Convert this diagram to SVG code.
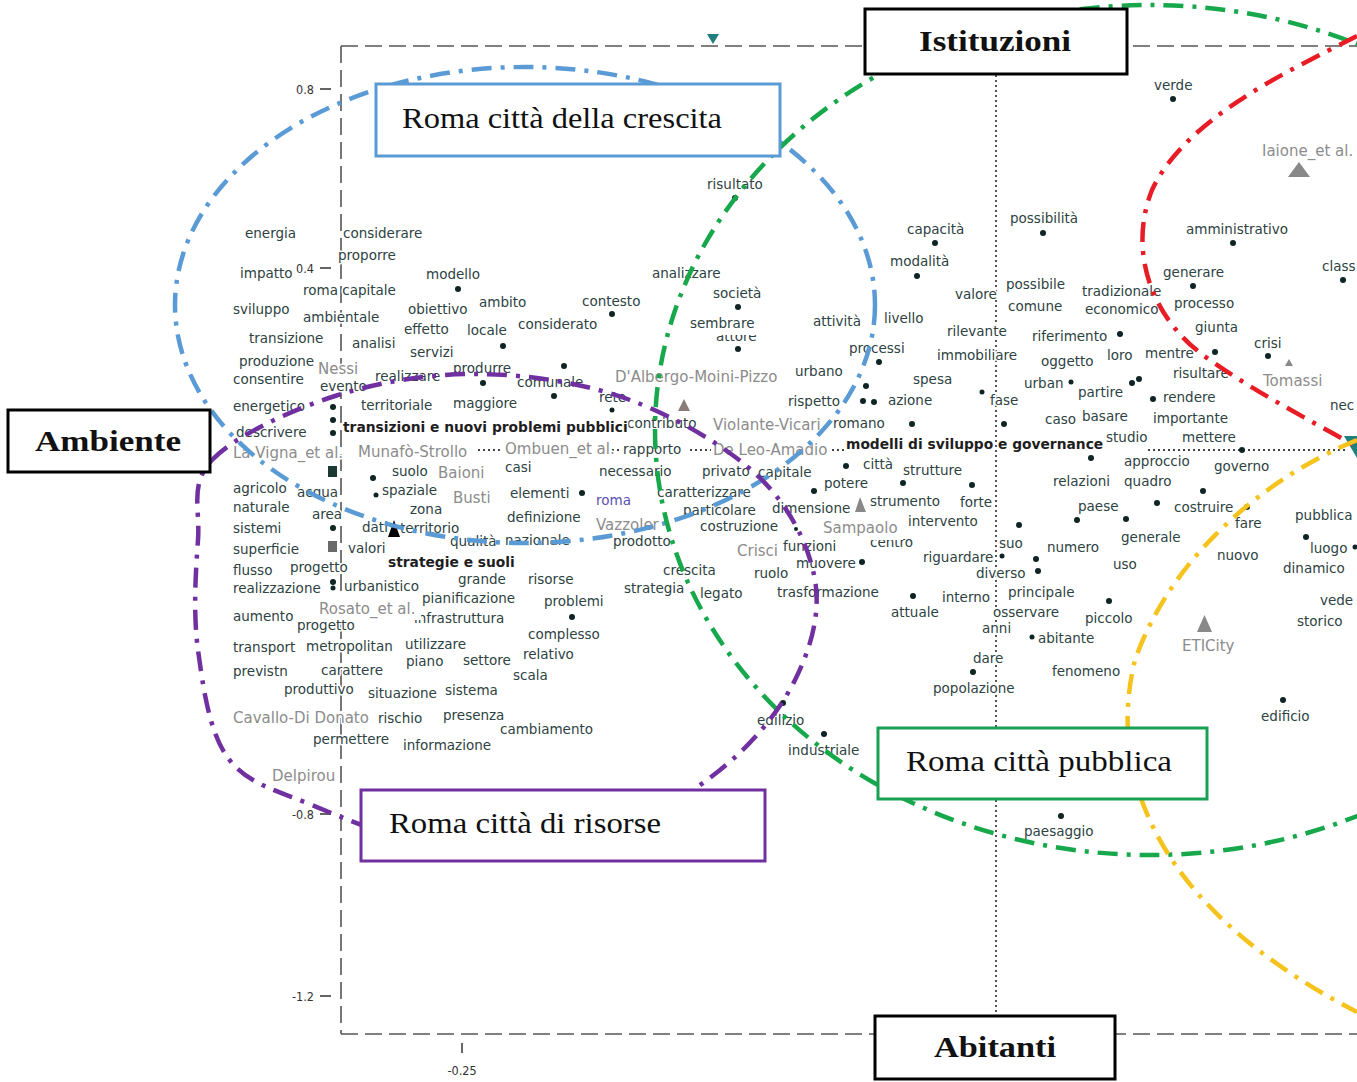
<svg xmlns="http://www.w3.org/2000/svg" width="1357" height="1082" viewBox="0 0 1357 1082">
<style>
.t{font-family:"DejaVu Sans",sans-serif;font-size:13.5px;fill:#2d4242}
.a{font-family:"DejaVu Sans",sans-serif;font-size:15px;fill:#8c8c8c}
.b{font-family:"DejaVu Sans",sans-serif;font-size:13.8px;font-weight:bold;fill:#1e1e1e}
.t,.a,.b{stroke:#fff;stroke-width:3px;paint-order:stroke;stroke-linejoin:round}
.ax{font-family:"DejaVu Sans Condensed","DejaVu Sans",sans-serif;font-size:12.5px;fill:#333}
.m{fill:#0f2424}
.c{fill:none;stroke-width:4.5;stroke-dasharray:20 9 4 9}
.fr{fill:none;stroke:#555;stroke-width:1.6;stroke-dasharray:17 7}
.dot{fill:none;stroke:#444;stroke-width:1.8;stroke-dasharray:2 3}
.box{fill:#fff;stroke-width:3}
.bt{font-family:"Liberation Serif",serif;font-size:30px;fill:#111}
.wb{fill:#fff}
</style>
<rect width="1357" height="1082" fill="#fff"/>

<g id="axes">
<path class="fr" d="M341,46 H1357 M341,46 V1034 M341,1034 H1357"/>
<path class="dot" d="M996,75 V1016 M478,450 H503 M607,450 H621 M690,450 H711 M832,450 H845 M1148,450 H1345"/>
<path stroke="#333" stroke-width="1.5" d="M320,89 H331 M320,268 H331 M320,814 H331 M320,996 H331 M462,1043 V1053"/>
<text class="ax" x="314" y="94" text-anchor="end">0.8</text>
<text class="ax" x="314" y="273" text-anchor="end">0.4</text>
<text class="ax" x="314" y="819" text-anchor="end">-0.8</text>
<text class="ax" x="314" y="1001" text-anchor="end">-1.2</text>
<text class="ax" x="462" y="1075" text-anchor="middle">-0.25</text>
</g>

<g id="words">
<text class="t" x="245" y="238">energia</text>
<text class="t" x="343" y="238">considerare</text>
<text class="t" x="338" y="260">proporre</text>
<text class="t" x="240" y="278">impatto</text>
<text class="t" x="426" y="279">modello</text>
<text class="t" x="303" y="295">roma capitale</text>
<text class="t" x="233" y="314">sviluppo</text>
<text class="t" x="303" y="322">ambientale</text>
<text class="t" x="408" y="314">obiettivo</text>
<text class="t" x="479" y="307">ambito</text>
<text class="t" x="582" y="306">contesto</text>
<text class="t" x="404" y="334">effetto</text>
<text class="t" x="467" y="335">locale</text>
<text class="t" x="518" y="329">considerato</text>
<text class="t" x="249" y="343">transizione</text>
<text class="t" x="352" y="348">analisi</text>
<text class="t" x="410" y="357">servizi</text>
<text class="t" x="239" y="366">produzione</text>
<text class="t" x="233" y="384">consentire</text>
<text class="t" x="320" y="391">evento</text>
<text class="t" x="375" y="381">realizzare</text>
<text class="t" x="453" y="373">produrre</text>
<text class="t" x="517" y="387">comunale</text>
<text class="t" x="453" y="408">maggiore</text>
<text class="t" x="361" y="410">territoriale</text>
<text class="t" x="233" y="411">energetico</text>
<text class="t" x="599" y="402">rete</text>
<text class="t" x="236" y="437">descrivere</text>
<text class="t" x="627" y="428">contributo</text>
<text class="t" x="833" y="428">romano</text>
<text class="t" x="788" y="406">rispetto</text>
<text class="t" x="795" y="376">urbano</text>
<text class="t" x="623" y="454">rapporto</text>
<text class="t" x="1106" y="442">studio</text>
<text class="t" x="392" y="476">suolo</text>
<text class="t" x="505" y="472">casi</text>
<text class="t" x="599" y="476">necessario</text>
<text class="t" x="702" y="476">privato</text>
<text class="t" x="758" y="477">capitale</text>
<text class="t" x="863" y="469">città</text>
<text class="t" x="903" y="475">strutture</text>
<text class="t" x="233" y="493">agricolo</text>
<text class="t" x="297" y="497">acqua</text>
<text class="t" x="382" y="495">spaziale</text>
<text class="t" x="510" y="498">elementi</text>
<text class="t" x="596" y="505" style="fill:#5a4fb0">roma</text>
<text class="t" x="657" y="497">caratterizzare</text>
<text class="t" x="824" y="488">potere</text>
<text class="t" x="233" y="512">naturale</text>
<text class="t" x="410" y="514">zona</text>
<text class="t" x="312" y="519">area</text>
<text class="t" x="507" y="522">definizione</text>
<text class="t" x="683" y="515">particolare</text>
<text class="t" x="772" y="513">dimensione</text>
<text class="t" x="870" y="506">strumento</text>
<text class="t" x="960" y="507">forte</text>
<text class="t" x="700" y="531">costruzione</text>
<text class="t" x="908" y="526">intervento</text>
<text class="t" x="233" y="533">sistemi</text>
<text class="t" x="362" y="532">dati</text>
<text class="t" x="400" y="533">territorio</text>
<text class="t" x="450" y="546">qualità</text>
<text class="t" x="505" y="545">nazionale</text>
<text class="t" x="613" y="546">prodotto</text>
<text class="t" x="870" y="547">centro</text>
<text class="t" x="233" y="554">superficie</text>
<text class="t" x="348" y="553">valori</text>
<text class="t" x="783" y="551">funzioni</text>
<text class="t" x="796" y="568">muovere</text>
<text class="t" x="923" y="562">riguardare</text>
<text class="t" x="999" y="548">suo</text>
<text class="t" x="1047" y="552">numero</text>
<text class="t" x="1121" y="542">generale</text>
<text class="t" x="233" y="575">flusso</text>
<text class="t" x="290" y="572">progetto</text>
<text class="t" x="663" y="575">crescita</text>
<text class="t" x="976" y="578">diverso</text>
<text class="t" x="1113" y="569">uso</text>
<text class="t" x="233" y="593">realizzazione</text>
<text class="t" x="344" y="591">urbanistico</text>
<text class="t" x="458" y="584">grande</text>
<text class="t" x="528" y="584">risorse</text>
<text class="t" x="624" y="593">strategia</text>
<text class="t" x="700" y="598">legato</text>
<text class="t" x="754" y="578">ruolo</text>
<text class="t" x="777" y="597">trasformazione</text>
<text class="t" x="891" y="617">attuale</text>
<text class="t" x="942" y="602">interno</text>
<text class="t" x="1008" y="597">principale</text>
<text class="t" x="414" y="623">infrastruttura</text>
<text class="t" x="422" y="603">pianificazione</text>
<text class="t" x="544" y="606">problemi</text>
<text class="t" x="233" y="621">aumento</text>
<text class="t" x="297" y="630">progetto</text>
<text class="t" x="993" y="617">osservare</text>
<text class="t" x="1085" y="623">piccolo</text>
<text class="t" x="528" y="639">complesso</text>
<text class="t" x="233" y="652">transport</text>
<text class="t" x="306" y="651">metropolitan</text>
<text class="t" x="405" y="649">utilizzare</text>
<text class="t" x="982" y="633">anni</text>
<text class="t" x="1038" y="643">abitante</text>
<text class="t" x="523" y="659">relativo</text>
<text class="t" x="406" y="666">piano</text>
<text class="t" x="463" y="665">settore</text>
<text class="t" x="233" y="676">previstn</text>
<text class="t" x="321" y="675">carattere</text>
<text class="t" x="513" y="680">scala</text>
<text class="t" x="973" y="663">dare</text>
<text class="t" x="1052" y="676">fenomeno</text>
<text class="t" x="284" y="694">produttivo</text>
<text class="t" x="368" y="698">situazione</text>
<text class="t" x="445" y="695">sistema</text>
<text class="t" x="933" y="693">popolazione</text>
<text class="t" x="378" y="723">rischio</text>
<text class="t" x="443" y="720">presenza</text>
<text class="t" x="1261" y="721">edificio</text>
<text class="t" x="757" y="725">edilizio</text>
<text class="t" x="500" y="734">cambiamento</text>
<text class="t" x="313" y="744">permettere</text>
<text class="t" x="403" y="750">informazione</text>
<text class="t" x="788" y="755">industriale</text>
<text class="t" x="1024" y="836">paesaggio</text>
<text class="t" x="1154" y="90">verde</text>
<text class="t" x="707" y="189">risultato</text>
<text class="t" x="907" y="234">capacità</text>
<text class="t" x="1010" y="223">possibilità</text>
<text class="t" x="1186" y="234">amministrativo</text>
<text class="t" x="890" y="266">modalità</text>
<text class="t" x="652" y="278">analizzare</text>
<text class="t" x="1163" y="277">generare</text>
<text class="t" x="1322" y="271">class</text>
<text class="t" x="713" y="298">società</text>
<text class="t" x="1006" y="289">possibile</text>
<text class="t" x="955" y="299">valore</text>
<text class="t" x="1082" y="296">tradizionale</text>
<text class="t" x="1174" y="308">processo</text>
<text class="t" x="1008" y="311">comune</text>
<text class="t" x="1085" y="314">economico</text>
<text class="t" x="884" y="323">livello</text>
<text class="t" x="813" y="326">attività</text>
<text class="t" x="716" y="341">attore</text>
<rect class="wb" x="688" y="313" width="72" height="22"/>
<text class="t" x="690" y="328">sembrare</text>
<text class="t" x="1195" y="332">giunta</text>
<text class="t" x="947" y="336">rilevante</text>
<text class="t" x="1032" y="341">riferimento</text>
<text class="t" x="849" y="353">processi</text>
<text class="t" x="937" y="360">immobiliare</text>
<text class="t" x="1041" y="366">oggetto</text>
<text class="t" x="1107" y="360">loro</text>
<text class="t" x="1145" y="358">mentre</text>
<text class="t" x="1254" y="348">crisi</text>
<text class="t" x="1173" y="378">risultare</text>
<text class="t" x="913" y="384">spesa</text>
<text class="t" x="1024" y="388">urban</text>
<text class="t" x="1078" y="397">partire</text>
<text class="t" x="1163" y="402">rendere</text>
<text class="t" x="1330" y="410">nec</text>
<text class="t" x="888" y="405">azione</text>
<text class="t" x="990" y="405">fase</text>
<text class="t" x="1045" y="424">caso</text>
<text class="t" x="1082" y="421">basare</text>
<text class="t" x="1153" y="423">importante</text>
<text class="t" x="1182" y="442">mettere</text>
<text class="t" x="1124" y="466">approccio</text>
<text class="t" x="1214" y="471">governo</text>
<text class="t" x="1053" y="486">relazioni</text>
<text class="t" x="1124" y="486">quadro</text>
<text class="t" x="1078" y="511">paese</text>
<text class="t" x="1174" y="512">costruire</text>
<text class="t" x="1235" y="528">fare</text>
<text class="t" x="1295" y="520">pubblica</text>
<text class="t" x="1310" y="553">luogo</text>
<text class="t" x="1283" y="573">dinamico</text>
<text class="t" x="1217" y="560">nuovo</text>
<text class="t" x="1320" y="605">vede</text>
<text class="t" x="1297" y="626">storico</text>
</g>

<g id="authors">
<text class="a" x="318" y="374">Nessi</text>
<text class="a" x="615" y="382">D'Albergo-Moini-Pizzo</text>
<text class="a" x="713" y="430">Violante-Vicari</text>
<text class="a" x="233" y="458">La Vigna_et al.</text>
<text class="a" x="358" y="457">Munafò-Strollo</text>
<text class="a" x="505" y="454">Ombuen_et al.</text>
<text class="a" x="713" y="455">De Leo-Amadio</text>
<text class="a" x="438" y="478">Baioni</text>
<text class="a" x="453" y="503">Busti</text>
<text class="a" x="596" y="530">Vazzoler</text>
<rect class="wb" x="821" y="518" width="82" height="22"/>
<text class="a" x="823" y="533">Sampaolo</text>
<text class="a" x="737" y="556">Crisci</text>
<rect class="wb" x="317" y="598" width="104" height="22"/>
<text class="a" x="319" y="614">Rosato_et al.</text>
<text class="a" x="233" y="723">Cavallo-Di Donato</text>
<text class="a" x="272" y="781">Delpirou</text>
<text class="a" x="1262" y="156">Iaione_et al.</text>
<text class="a" x="1263" y="386">Tomassi</text>
<text class="a" x="1182" y="651">ETICity</text>
</g>

<g id="themes">
<text class="b" x="343" y="432">transizioni e nuovi problemi pubblici</text>
<text class="b" x="846" y="449">modelli di sviluppo e governance</text>
<text class="b" x="388" y="567">strategie e suoli</text>
</g>

<g id="markers">
<g class="m">
<circle cx="458" cy="289" r="3"/><circle cx="612" cy="314" r="3"/><circle cx="503" cy="346" r="3"/><circle cx="564" cy="366" r="3"/><circle cx="483" cy="383" r="3"/><circle cx="554" cy="396" r="3"/><circle cx="612" cy="410" r="2.5"/><circle cx="582" cy="493" r="3"/><circle cx="572" cy="617" r="3"/><circle cx="735" cy="198" r="3"/><circle cx="738" cy="307" r="3"/><circle cx="738" cy="349" r="3"/><circle cx="879" cy="362" r="3"/><circle cx="866" cy="386" r="3"/><circle cx="863" cy="401" r="3"/><circle cx="874" cy="402" r="3"/><circle cx="846" cy="466" r="3"/><circle cx="814" cy="491" r="3"/><circle cx="903" cy="483" r="3"/><circle cx="972" cy="485" r="3"/><circle cx="796" cy="529" r="2"/><circle cx="862" cy="562" r="3"/><circle cx="913" cy="596" r="3"/><circle cx="973" cy="672" r="3"/><circle cx="783" cy="703" r="3"/><circle cx="824" cy="734" r="3"/><circle cx="935" cy="243" r="3"/><circle cx="917" cy="276" r="3"/><circle cx="1043" cy="233" r="3"/><circle cx="912" cy="424" r="3"/><circle cx="1004" cy="424" r="3"/><circle cx="982" cy="392" r="2.5"/><circle cx="1071" cy="382" r="2.5"/><circle cx="1091" cy="458" r="3"/><circle cx="1019" cy="525" r="3"/><circle cx="1077" cy="520" r="3"/><circle cx="1126" cy="519" r="3"/><circle cx="1036" cy="559" r="3"/><circle cx="1038" cy="571" r="3"/><circle cx="1002" cy="556" r="2.5"/><circle cx="1109" cy="601" r="3"/><circle cx="1032" cy="637" r="2.5"/><circle cx="1173" cy="99" r="3"/><circle cx="1233" cy="243" r="3"/><circle cx="1193" cy="286" r="3"/><circle cx="1343" cy="280" r="3"/><circle cx="1120" cy="334" r="3"/><circle cx="1215" cy="352" r="3"/><circle cx="1268" cy="356" r="3"/><circle cx="1132" cy="383" r="3"/><circle cx="1139" cy="379" r="3"/><circle cx="1153" cy="399" r="3"/><circle cx="1242" cy="450" r="3"/><circle cx="1203" cy="491" r="3"/><circle cx="1157" cy="503" r="3"/><circle cx="1247" cy="507" r="3"/><circle cx="1306" cy="537" r="3"/><circle cx="1355" cy="547" r="2.5"/><circle cx="1283" cy="700" r="3"/><circle cx="1061" cy="816" r="3"/><circle cx="373" cy="478" r="3"/><circle cx="376" cy="495" r="2.5"/><circle cx="333" cy="528" r="3"/><circle cx="333" cy="582" r="3"/><circle cx="333" cy="588" r="2.5"/><circle cx="333" cy="407" r="3"/><circle cx="333" cy="420" r="3"/><circle cx="333" cy="433" r="3"/>
</g>
<rect x="328" y="466" width="9" height="11" fill="#1d3a32"/>
<rect x="328" y="541" width="9" height="11" fill="#6a6a6a"/>
<polygon points="388,537 400,537 394,520" fill="#000"/>
<polygon points="678,411 690,411 684,399" fill="#8a7d78"/>
<polygon points="855,512 866,512 860,497" fill="#888"/>
<polygon points="1288,177 1310,177 1299,162" fill="#888"/>
<polygon points="1285,366 1293,366 1289,359" fill="#888"/>
<polygon points="1197,632 1212,632 1204.5,615" fill="#888"/>
<polygon points="707,34 719,34 713,44" fill="#1f7f7f"/>
<polygon points="1344,436 1357,436 1357,458" fill="#1f7f7f"/>
</g>

<g id="connectors">
<ellipse class="c" cx="525" cy="305" rx="350" ry="238" stroke="#5b9bd5"/>
<ellipse class="c" cx="1150" cy="430" rx="495" ry="425" stroke="#17a84c"/>
<path class="c" stroke="#7030a0" d="M212,460 C234.8,436 290.3,410.3 335,396 C379.7,381.7 430.8,373.3 480,374 C529.2,374.7 583.3,382.7 630,400 C676.7,417.3 729.2,448 760,478 C790.8,508 809.2,546.3 815,580 C820.8,613.7 810.8,648.3 795,680 C779.2,711.7 752.5,744.2 720,770 C687.5,795.8 646.7,822.5 600,835 C553.3,847.5 488,850 440,845 C392,840 347.3,819.5 312,805 C276.7,790.5 247,783.8 228,758 C209,732.2 203,686.3 198,650 C193,613.7 195.7,571.7 198,540 C200.3,508.3 189.2,484 212,460 Z"/>
<path class="c" stroke="#e81c24" d="M1357,36 C1280,75 1185,120 1152,190 C1128,250 1150,320 1210,360 C1260,395 1310,420 1357,447"/>
<path class="c" stroke="#f6c21c" d="M1357,440 C1260,480 1170,560 1135,660 C1110,760 1140,900 1357,1012"/>
</g>

<g id="n-istituzioni">
<rect class="box" x="865" y="9" width="262" height="65" stroke="#000"/>
<text class="bt" x="995" y="51" text-anchor="middle" font-weight="bold" textLength="152" lengthAdjust="spacingAndGlyphs">Istituzioni</text>
</g>
<g id="n-ambiente">
<rect class="box" x="8" y="410" width="202" height="62" stroke="#000"/>
<text class="bt" x="108" y="451" text-anchor="middle" font-weight="bold" textLength="146" lengthAdjust="spacingAndGlyphs">Ambiente</text>
</g>
<g id="n-abitanti">
<rect class="box" x="875" y="1016" width="240" height="63" stroke="#000"/>
<text class="bt" x="995" y="1057" text-anchor="middle" font-weight="bold" textLength="122" lengthAdjust="spacingAndGlyphs">Abitanti</text>
</g>
<g id="n-crescita">
<rect class="box" x="376" y="84" width="404" height="72" stroke="#5b9bd5" stroke-width="2.5"/>
<text class="bt" x="562" y="128" text-anchor="middle" textLength="320" lengthAdjust="spacingAndGlyphs">Roma città della crescita</text>
</g>
<g id="n-pubblica">
<rect class="box" x="878" y="728" width="329" height="71" stroke="#1aa052" stroke-width="2.5"/>
<text class="bt" x="1039" y="771" text-anchor="middle" textLength="266" lengthAdjust="spacingAndGlyphs">Roma città pubblica</text>
</g>
<g id="n-risorse">
<rect class="box" x="361" y="790" width="404" height="71" stroke="#7030a0" stroke-width="2.5"/>
<text class="bt" x="525" y="833" text-anchor="middle" textLength="272" lengthAdjust="spacingAndGlyphs">Roma città di risorse</text>
</g>
</svg>
